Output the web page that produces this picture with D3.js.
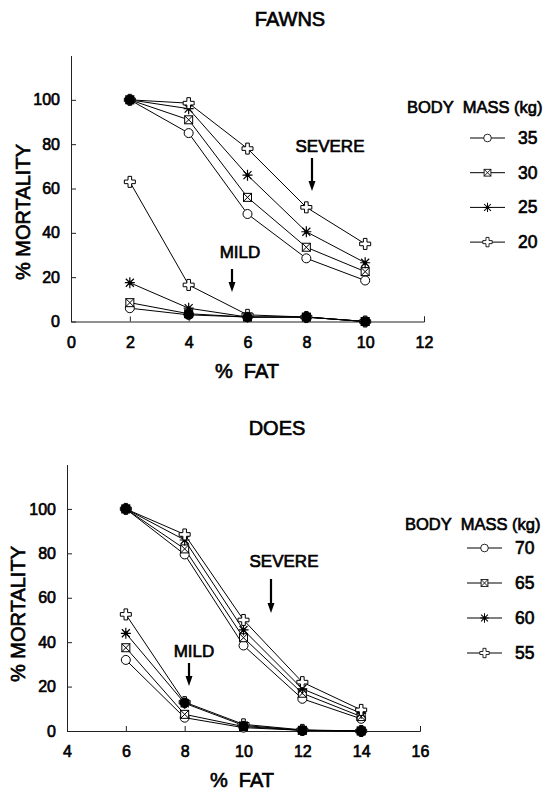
<!DOCTYPE html>
<html>
<head>
<meta charset="utf-8">
<script src="https://cdn.jsdelivr.net/npm/d3@7"></script>
<style>
  body { margin: 0; background: #fff; }
  text { font-family: "Liberation Sans", Arial, Helvetica, sans-serif; fill: #000; stroke: #000; stroke-width: 0.65px; }
</style>
</head>
<body>
<div id="chart"></div>
<script>
// ---- data ----
const massShapes = ["circle", "box", "star", "cross"];
const mortalityTicks = [0, 20, 40, 60, 80, 100];

// fawns
const fawnFat = [2, 4, 6, 8, 10];
const fawnFatTicks = [0, 2, 4, 6, 8, 10, 12];
const fawnMass = ["35", "30", "25", "20"];
const fawnSevere35 = [100, 85, 48.5, 28.5, 18.5];
const fawnSevere30 = [100, 91, 56, 33.5, 22.5];
const fawnSevere25 = [100, 96, 66, 40.5, 26.5];
const fawnSevere20 = [100, 98.5, 78, 51.5, 35];
const fawnMild35 = [6, 3, 2, 2, 0];
const fawnMild30 = [8.5, 3.5, 2, 2, 0];
const fawnMild25 = [17.5, 6, 2, 2, 0];
const fawnMild20 = [63, 16.5, 3, 2, 0];

// does
const doeFat = [6, 8, 10, 12, 14];
const doeFatTicks = [4, 6, 8, 10, 12, 14, 16];
const doeMass = ["70", "65", "60", "55"];
const doeSevere70 = [100, 79.5, 38.5, 14.5, 5.5];
const doeSevere65 = [100, 82, 42, 17, 6.5];
const doeSevere60 = [100, 86, 45.5, 19, 8];
const doeSevere55 = [100, 88.5, 50, 22, 9.5];
const doeMild70 = [32, 6, 1.5, 0.3, 0];
const doeMild65 = [37.5, 7.5, 2, 0.3, 0];
const doeMild60 = [44, 12.5, 2.5, 0.3, 0];
const doeMild55 = [52.5, 13, 3, 0.5, 0];

const svg = d3.select("#chart").append("svg")
    .attr("width", 544)
    .attr("height", 791);

// open symbols as in the original plot
function drawMarker(g, type, x, y, k) {
    var m = g.append("g")
        .attr("transform", "translate(" + x + "," + y + ") scale(" + k + ")")
        .attr("fill", "#fff")
        .attr("stroke", "#000")
        .attr("stroke-width", 1);
    if (type === "circle") {
        m.append("circle").attr("r", 4.5);
    } else if (type === "box") {
        m.append("rect").attr("x", -4).attr("y", -4).attr("width", 8).attr("height", 8);
        m.append("path").attr("d", "M-4,-4L4,4M4,-4L-4,4");
    } else if (type === "star") {
        m.append("path").attr("d", "M-5,0H5M0,-5.5V5.5M-4,-4L4,4M4,-4L-4,4").attr("stroke-width", 1.2);
        m.append("circle").attr("r", 1.6).attr("fill", "#000");
    } else {
        m.append("path").attr("d", "M-1.8,-5.5H1.8V-1.8H5.5V1.8H1.8V5.5H-1.8V1.8H-5.5V-1.8H-1.8Z");
    }
}

function drawArrow(g, note) {
    g.append("text")
        .attr("x", note.tx).attr("y", note.ty)
        .attr("text-anchor", "middle")
        .style("font-size", "17px")
        .text(note.label);
    g.append("line")
        .attr("x1", note.ax).attr("x2", note.ax)
        .attr("y1", note.y0).attr("y2", note.y1 - 8)
        .attr("stroke", "#000").attr("stroke-width", 2.2);
    g.append("path")
        .attr("d", "M" + (note.ax - 3.5) + "," + (note.y1 - 10) + "L" + (note.ax + 3.5) + "," + (note.y1 - 10) + "L" + note.ax + "," + note.y1 + "Z")
        .attr("fill", "#000");
}

function panel(p) {
    var g = svg.append("g");
    var x = d3.scaleLinear().domain(p.xDomain).range(p.xRange);
    var y = d3.scaleLinear().domain([0, 120]).range(p.yRange);

    // title
    g.append("text")
        .attr("x", p.titleX).attr("y", p.titleY)
        .attr("text-anchor", "middle")
        .style("font-size", "20px")
        .text(p.title);

    // axes, ticks point inward
    var xAxis = d3.axisBottom(x).tickValues(p.xTicks).tickSize(-5).tickSizeOuter(-5).tickPadding(15);
    var yAxis = d3.axisLeft(y).tickValues(mortalityTicks).tickSize(-5).tickSizeOuter(0).tickPadding(11);
    var gx = g.append("g").attr("transform", "translate(0," + p.yRange[0] + ")").call(xAxis);
    var gy = g.append("g").attr("transform", "translate(" + p.xRange[0] + ",0)").call(yAxis);
    [gx, gy].forEach(function (a) {
        a.selectAll("path, line").attr("stroke", "#222").attr("stroke-width", 1);
        a.selectAll("text").style("font-size", "16px").attr("fill", "#000");
    });

    g.append("text")
        .attr("x", p.xLabel[0]).attr("y", p.xLabel[1])
        .attr("text-anchor", "middle")
        .style("font-size", "20px")
        .style("white-space", "pre")
        .text("%  FAT");
    g.append("text")
        .attr("transform", "translate(" + p.yLabel[0] + "," + p.yLabel[1] + ") rotate(-90)")
        .attr("text-anchor", "middle")
        .attr("dominant-baseline", "central")
        .style("font-size", "20px")
        .text("% MORTALITY");

    var line = d3.line()
        .x(function (d, i) { return x(p.fat[i]); })
        .y(function (d) { return y(d); });

    [p.severe, p.mild].forEach(function (group) {
        group.forEach(function (s) {
            g.append("path").datum(s).attr("d", line)
                .attr("fill", "none").attr("stroke", "#000").attr("stroke-width", 1);
        });
        group.forEach(function (s, si) {
            s.forEach(function (v, i) { drawMarker(g, massShapes[si], x(p.fat[i]), y(v), 1); });
        });
        // where symbols pile up the print shows a solid dot
        p.fat.forEach(function (f, i) {
            var vals = group.map(function (s) { return s[i]; }).sort(function (a, b) { return a - b; });
            var clusters = [], cur = [vals[0]];
            for (var j = 1; j < vals.length; j++) {
                if (vals[j] - vals[j - 1] <= 0.8) cur.push(vals[j]);
                else { clusters.push(cur); cur = [vals[j]]; }
            }
            clusters.push(cur);
            clusters.filter(function (c) { return c.length > 1; }).forEach(function (c) {
                g.append("circle")
                    .attr("cx", x(f)).attr("cy", y(d3.mean(c)))
                    .attr("r", 5.2).attr("fill", "#000");
            });
        });
    });

    drawArrow(g, p.severeNote);
    drawArrow(g, p.mildNote);

    // legend
    var lg = g.append("g");
    lg.append("text")
        .attr("x", p.legend.x).attr("y", p.legend.titleY)
        .style("font-size", "16.5px")
        .style("white-space", "pre")
        .text("BODY  MASS (kg)");
    p.mass.forEach(function (m, i) {
        var ry = p.legend.rowY + i * p.legend.dy;
        lg.append("line")
            .attr("x1", p.legend.lineX).attr("x2", p.legend.lineX + 35)
            .attr("y1", ry).attr("y2", ry)
            .attr("stroke", "#000").attr("stroke-width", 1);
        drawMarker(lg, massShapes[i], p.legend.lineX + 17.5, ry, 0.85);
        lg.append("text")
            .attr("x", p.legend.lineX + 48).attr("y", ry)
            .attr("dominant-baseline", "central")
            .style("font-size", "17.5px")
            .text(m);
    });
}

panel({
    title: "FAWNS", titleX: 290, titleY: 26,
    fat: fawnFat, mass: fawnMass,
    severe: [fawnSevere35, fawnSevere30, fawnSevere25, fawnSevere20],
    mild: [fawnMild35, fawnMild30, fawnMild25, fawnMild20],
    xDomain: [0, 12], xTicks: fawnFatTicks, xRange: [71, 424],
    yRange: [321.5, 55.5],
    xLabel: [247, 378], yLabel: [23, 212],
    severeNote: { label: "SEVERE", tx: 330, ty: 152, ax: 312, y0: 158, y1: 191 },
    mildNote: { label: "MILD", tx: 240, ty: 258, ax: 232, y0: 269, y1: 292 },
    legend: { x: 407, titleY: 113, lineX: 470, rowY: 138, dy: 34.7 }
});

panel({
    title: "DOES", titleX: 277, titleY: 435,
    fat: doeFat, mass: doeMass,
    severe: [doeSevere70, doeSevere65, doeSevere60, doeSevere55],
    mild: [doeMild70, doeMild65, doeMild60, doeMild55],
    xDomain: [4, 16], xTicks: doeFatTicks, xRange: [67, 420],
    yRange: [731, 464.5],
    xLabel: [242, 787], yLabel: [18, 614],
    severeNote: { label: "SEVERE", tx: 284, ty: 567, ax: 271, y0: 579, y1: 613 },
    mildNote: { label: "MILD", tx: 194, ty: 657, ax: 189, y0: 663, y1: 686 },
    legend: { x: 405, titleY: 530, lineX: 467, rowY: 548, dy: 35 }
});
</script>
</body>
</html>
